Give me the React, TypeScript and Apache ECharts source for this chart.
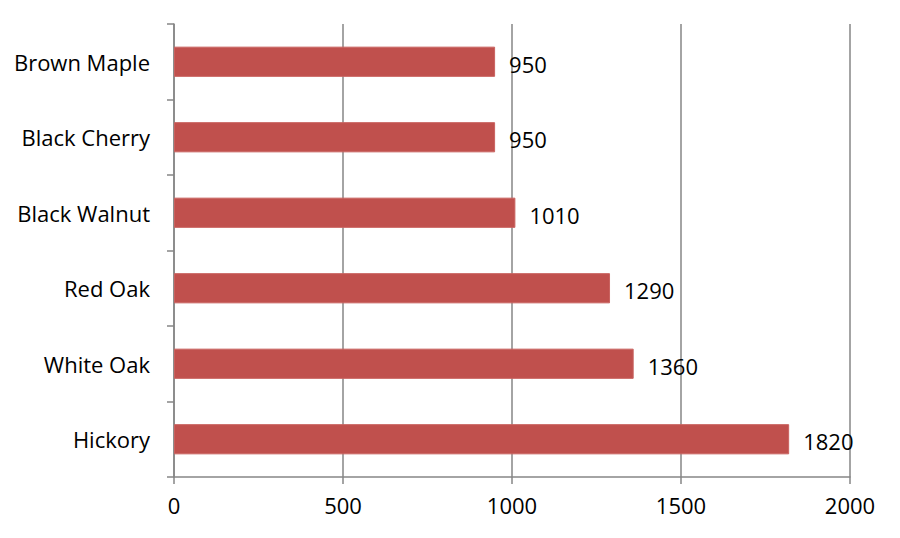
import React, { useEffect, useRef } from 'react';
import * as echarts from 'echarts';

const woods = ['Hickory', 'White Oak', 'Red Oak', 'Black Walnut', 'Black Cherry', 'Brown Maple'];
const hardness = [1820, 1360, 1290, 1010, 950, 950];

const barColor = '#C0504D';
const lineColor = '#868686';
const font = 'Open Sans';

export default function App() {
  const elRef = useRef<HTMLDivElement>(null);

  useEffect(() => {
    if (!elRef.current) return;
    const chart = echarts.init(elRef.current, null, { renderer: 'svg' });

    chart.setOption({
      animation: false,
      grid: { left: 166, right: 42, top: 16, bottom: 53 },
      xAxis: {
        type: 'value',
        min: 0,
        max: 2000,
        interval: 500,
        axisLine: { show: true, lineStyle: { color: lineColor, width: 1.5 } },
        axisTick: { show: true, length: 7, lineStyle: { color: lineColor, width: 1.5 } },
        axisLabel: {
          color: '#000',
          fontFamily: font,
          fontSize: 22,
          margin: 17,
          formatter: (v: number) => String(v),
        },
        splitLine: { show: true, lineStyle: { color: lineColor, width: 1.5 } },
      },
      yAxis: {
        type: 'category',
        data: woods,
        axisLine: { show: true, lineStyle: { color: lineColor, width: 1.5 } },
        axisTick: { show: true, length: 7, alignWithLabel: false, lineStyle: { color: lineColor, width: 1.5 } },
        axisLabel: { color: '#000', fontFamily: font, fontSize: 22, margin: 24 },
        splitLine: { show: false },
      },
      series: [
        {
          type: 'bar',
          data: hardness,
          barWidth: '40%',
          itemStyle: { color: barColor, borderColor: '#C9625F', borderWidth: 1 },
          label: {
            show: true,
            position: 'right',
            distance: 14,
            offset: [0, 2],
            color: '#000',
            fontFamily: font,
            fontSize: 22,
          },
        },
      ],
    });

    return () => chart.dispose();
  }, []);

  return <div ref={elRef} style={{ width: 884, height: 522 }} />;
}
